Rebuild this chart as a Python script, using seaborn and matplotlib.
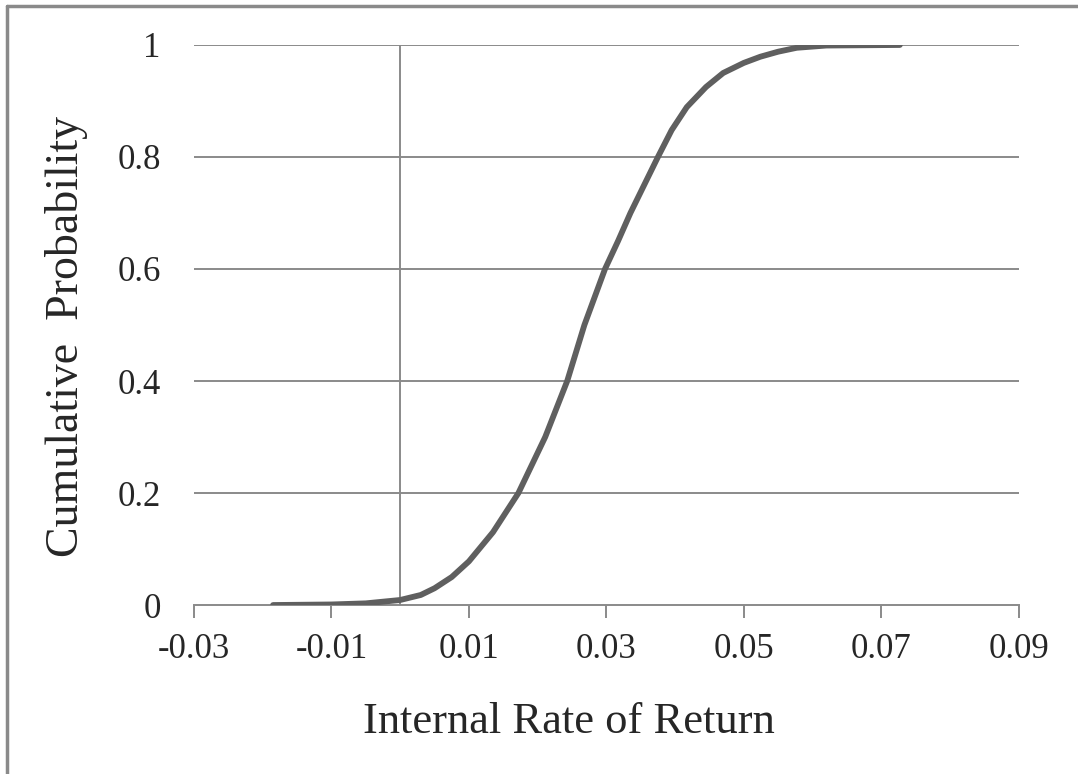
import pandas as pd
import numpy as np
import matplotlib.pyplot as plt
import seaborn as sns
from matplotlib.lines import Line2D

# values
irr = [-0.0185, -0.010, -0.005, 0.000, 0.003, 0.005, 0.0075, 0.010, 0.0135,
       0.0172, 0.0211, 0.0243, 0.0268, 0.0298, 0.0317, 0.0335, 0.0355,
       0.0375, 0.0395, 0.0417, 0.0445, 0.047, 0.050, 0.0524, 0.055, 0.0577,
       0.062, 0.0727]
cum_prob = [0.0, 0.001, 0.003, 0.009, 0.018, 0.03, 0.05, 0.078, 0.13,
            0.2, 0.30, 0.4, 0.5, 0.6, 0.65, 0.70, 0.75,
            0.8, 0.848, 0.889, 0.925, 0.95, 0.968, 0.979, 0.988, 0.995,
            0.999, 1.0]

x_ticks = [-0.03, -0.01, 0.01, 0.03, 0.05, 0.07, 0.09]
y_ticks = [0, 0.2, 0.4, 0.6, 0.8, 1]
y_labels = ['0', '0.2', '0.4', '0.6', '0.8', '1']

df = pd.DataFrame({'irr': irr, 'prob': cum_prob})

sns.set_style('white')
plt.rcParams['font.family'] = ['Liberation Serif', 'DejaVu Serif']

grey = '#8a8a8a'

fig = plt.figure(figsize=(10.78, 7.74), dpi=100)
ax = fig.add_axes([0.18, 0.2183, 0.765, 0.7236])

for yv in y_ticks[1:]:
    ax.axhline(yv, color=grey, lw=1.4, zorder=1)
ax.axvline(0, color=grey, lw=1.4, zorder=1)

sns.lineplot(data=df, x='irr', y='prob', sort=False, color='#5f5f5f',
             lw=4.2, ax=ax, zorder=3, solid_capstyle='round')

ax.set_xlim(-0.03, 0.09)
ax.set_ylim(0, 1)
ax.set_xticks(x_ticks)
ax.set_xticklabels([f'{v:.2f}' for v in x_ticks])
ax.set_yticks(y_ticks)
ax.set_yticklabels(y_labels)

for s in ['top', 'right', 'left']:
    ax.spines[s].set_visible(False)
ax.spines['bottom'].set_color(grey)
ax.spines['bottom'].set_linewidth(1.4)

ax.tick_params(axis='x', length=9, width=1.4, color=grey, pad=11,
               labelsize=25, direction='out', bottom=True)
ax.tick_params(axis='y', length=0, pad=24, labelsize=25)

ax.set_xlabel('Internal Rate of Return', fontsize=32, va='center')
ax.set_ylabel('Cumulative  Probability', fontsize=33, va='center')
ax.xaxis.set_label_coords(0.4545, -0.209)
ax.yaxis.set_label_coords(-0.155, 0.48)

# outer chart border (top and left edges visible)
fig.add_artist(Line2D([7 / 1078, 1], [1 - 6 / 774, 1 - 6 / 774],
                      transform=fig.transFigure, color=grey, lw=2.5))
fig.add_artist(Line2D([7 / 1078, 7 / 1078], [0, 1 - 6 / 774],
                      transform=fig.transFigure, color=grey, lw=2.5))

fig.savefig('out.png', dpi=100)
